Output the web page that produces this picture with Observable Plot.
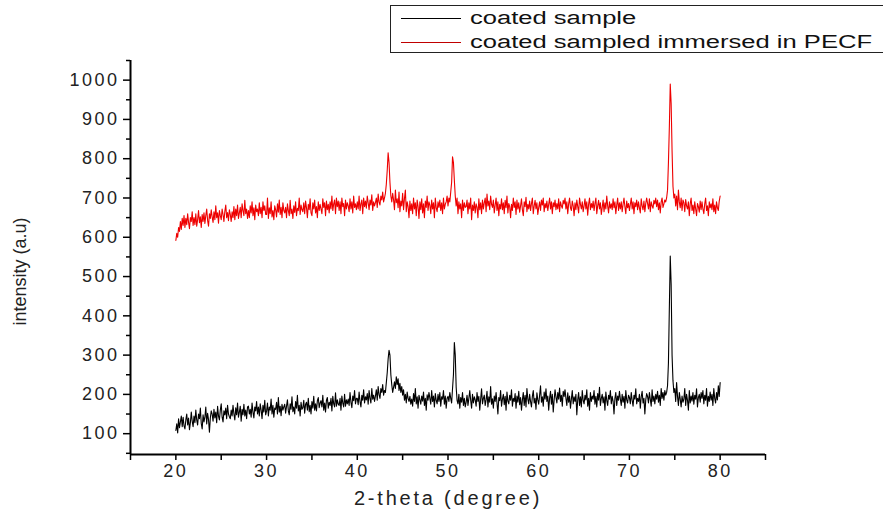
<!DOCTYPE html>
<html>
<head>
<meta charset="utf-8">
<script src="https://cdn.jsdelivr.net/npm/d3@7"></script>
<script src="https://cdn.jsdelivr.net/npm/@observablehq/plot@0.6"></script>
<style>
  html, body { margin: 0; padding: 0; background: #fff; overflow: hidden; }
  #wrap { position: relative; width: 883px; height: 517px; }
  #legend { position: absolute; left: 390px; top: 5px; width: 520px; height: 48px;
            border: 1px solid #222; box-sizing: border-box; background: #fff;
            font-family: "Liberation Sans", Arial, sans-serif; font-size: 18px; color: #111; }
  .row { position: absolute; left: 0; height: 22px; width: 100%; }
  .row .ln { position: absolute; left: 10px; top: 11px; width: 60px; height: 0; border-top: 1.3px solid #000; }
  .row .tx { position: absolute; left: 79px; top: 0; white-space: nowrap; transform: scaleX(1.42); transform-origin: left center; line-height: 22px; }
  svg [aria-label="x-axis tick label"] text, svg [aria-label="y-axis tick label"] text { letter-spacing: 2.5px; font-size: 18px; }
  svg [aria-label="x-axis label"] text { font-size: 20px; letter-spacing: 2.8px; }
</style>
</head>
<body>
<div id="wrap">
  <div id="chart"></div>
  <div id="legend"></div>
</div>
<script>
// 2-theta grid: start and step of the scan
const thetaStart = 20;
const thetaStep = 0.1;

const seriesNames = ["coated sample", "coated sampled immersed in PECF"];
const seriesColors = ["#000000", "#ee0000"];
const xTitle = "2-theta (degree)";
const yTitle = "intensity (a.u)";

// intensity (a.u) of coated sample, 20.0 → 80.0 in steps of 0.1 (one row per degree)
const coatedSample = [
  108,125,102,138,115,130,145,118,142,120,
  112,135,150,122,140,110,128,155,132,118,
  145,128,160,135,122,150,138,165,126,112,
  148,130,142,168,125,152,136,104,140,158,
  150,132,162,140,155,128,170,145,135,160,
  176,142,130,158,148,165,138,172,150,143,
  138,160,145,172,150,135,166,148,178,142,
  155,170,132,162,148,175,145,160,138,168,
  170,150,162,142,178,155,140,168,158,182,
  150,168,145,176,160,138,172,155,185,148,
  158,178,145,168,160,188,150,172,142,165,
  162,180,150,192,155,170,146,175,160,168,
  175,152,170,186,158,148,176,162,194,156,
  168,150,182,165,198,158,172,145,180,162,
  166,185,152,175,180,160,190,156,172,150,
  182,165,195,160,176,158,184,192,166,178,
  184,168,198,160,178,155,185,192,165,180,
  172,190,158,195,176,168,204,170,186,175,
  172,190,160,196,178,168,200,170,186,176,
  188,172,205,180,166,196,184,210,176,190,
  190,174,206,182,168,198,185,212,178,194,
  186,202,175,210,190,178,215,188,198,182,
  196,212,185,220,200,190,215,205,225,198,
  210,205,230,255,290,312,300,250,225,205,
  218,232,215,245,225,240,210,228,205,220,
  198,212,185,200,178,206,190,182,195,175,
  188,170,202,182,215,176,194,165,198,186,
  175,196,183,206,172,190,160,199,185,205,
  190,175,210,182,196,168,202,185,176,200,
  182,205,170,194,188,210,175,196,165,190,
  195,182,205,190,178,215,250,332,300,218,
  185,176,200,165,192,180,205,172,190,168,
  180,198,172,190,210,185,165,200,178,194,
  186,170,205,182,195,160,188,214,176,190,
  198,172,186,208,168,194,180,220,175,189,
  165,196,182,205,178,150,192,184,210,170,
  188,200,174,195,160,206,183,176,198,185,
  212,170,190,182,202,165,196,180,208,174,
  192,160,186,205,172,198,168,215,188,176,
  200,182,168,195,210,178,190,162,204,186,
  175,198,222,180,194,170,206,188,214,182,
  196,160,190,208,175,200,155,186,212,193,
  178,205,188,216,182,198,170,208,195,212,
  190,172,204,180,196,165,188,210,176,194,
  182,200,148,186,205,172,194,168,210,185,
  176,198,186,212,170,190,160,205,182,196,
  188,210,175,195,168,202,185,218,172,190,
  200,178,194,160,206,185,172,198,188,210,
  176,195,182,150,190,205,172,196,185,208,
  188,172,200,180,195,165,210,186,178,198,
  192,176,205,185,170,198,188,214,176,190,
  182,200,165,194,208,178,190,150,186,202,
  195,178,205,188,170,212,182,196,176,200,
  188,208,180,198,172,215,190,205,185,210,
  198,205,222,280,420,552,480,300,235,205,
  215,182,230,195,172,205,188,168,196,180,
  188,215,172,200,185,160,210,178,196,183,
  205,175,198,188,214,168,192,200,180,205,
  190,210,176,198,185,215,170,195,182,206,
  185,200,172,215,190,178,205,186,222,195,
  230
];

// intensity (a.u) of coated sample immersed in PECF, 20.0 → 80.0 in steps of 0.1
const immersedSample = [
  592,610,600,625,615,640,620,648,630,655,
  625,648,632,660,638,622,650,640,665,630,
  650,632,660,628,645,668,637,652,625,658,
  640,662,635,655,672,643,628,660,648,670,
  652,638,665,645,680,650,662,636,668,655,
  645,672,658,640,666,682,650,663,642,670,
  658,640,665,650,678,645,672,655,682,648,
  662,676,650,685,668,655,694,660,672,648,
  668,650,680,662,690,655,675,645,682,665,
  672,655,688,660,676,650,690,668,680,658,
  658,700,648,675,660,690,652,668,645,680,
  670,652,685,664,695,658,676,650,688,668,
  662,676,650,685,668,655,694,660,672,648,
  680,663,690,655,674,668,700,658,682,670,
  665,688,660,692,675,650,684,670,698,662,
  655,688,672,695,662,678,650,690,668,684,
  672,660,698,676,688,655,692,670,684,662,
  690,672,705,668,685,695,660,700,678,692,
  668,690,660,700,678,686,655,695,672,688,
  680,665,698,672,690,662,705,676,685,670,
  690,672,705,668,685,695,660,700,678,692,
  674,705,688,670,695,682,708,668,690,680,
  688,700,676,710,690,682,705,695,715,690,
  700,712,735,770,815,790,740,705,690,712,
  695,670,720,688,698,675,715,665,692,680,
  712,670,698,720,665,690,678,650,692,668,
  685,660,700,672,688,655,695,678,648,690,
  670,698,662,685,650,692,676,705,668,690,
  682,660,695,672,688,650,700,675,665,690,
  676,695,668,688,660,700,672,684,690,705,
  680,700,690,715,740,805,790,745,705,680,
  700,660,690,672,685,650,695,668,688,676,
  678,695,660,688,672,700,645,682,668,690,
  662,685,676,650,698,670,688,660,695,672,
  688,700,665,710,680,692,670,705,684,676,
  695,662,682,700,668,690,655,684,672,698,
  670,688,660,694,675,705,662,686,678,650,
  684,668,700,676,690,658,695,672,688,664,
  680,698,670,655,690,678,702,665,684,672,
  692,668,686,700,660,680,694,672,688,658,
  676,690,668,695,682,700,665,686,675,692,
  668,684,700,672,690,660,688,678,695,670,
  686,672,698,665,690,680,674,694,685,700,
  672,690,660,685,700,675,668,692,680,655,
  688,670,695,678,662,700,684,672,690,665,
  680,698,672,690,656,684,700,670,686,675,
  692,668,686,700,660,680,694,672,688,658,
  676,695,665,688,672,705,680,662,690,674,
  685,670,698,675,690,660,682,700,668,688,
  672,690,665,684,700,678,660,692,675,686,
  668,684,700,672,690,660,688,678,695,670,
  690,675,662,698,680,670,692,665,686,700,
  686,672,698,665,690,680,674,694,685,700,
  678,695,670,688,662,690,700,676,685,695,
  690,700,720,790,880,990,940,820,730,700,
  710,680,705,670,720,690,675,700,668,695,
  688,665,696,680,672,690,655,685,700,668,
  682,660,690,672,655,686,678,664,692,670,
  690,672,660,685,700,668,680,655,690,675,
  685,670,698,665,682,660,690,675,668,692,
  705
];

const xTicks = [20, 30, 40, 50, 60, 70, 80];
const xMinorTicks = [15, 25, 35, 45, 55, 65, 75, 85];
const yTicks = [100, 200, 300, 400, 500, 600, 700, 800, 900, 1000];
const yMinorTicks = [50, 150, 250, 350, 450, 550, 650, 750, 850, 950, 1050];
const xDomain = [15, 85];
const yDomain = [47, 1050];

const rows = [];
[coatedSample, immersedSample].forEach((arr, s) => {
  arr.forEach((v, i) => rows.push({series: seriesNames[s], theta: +(thetaStart + i * thetaStep).toFixed(2), intensity: v}));
});

const chart = Plot.plot({
  width: 883,
  height: 517,
  marginLeft: 130,
  marginRight: 118,
  marginTop: 60,
  marginBottom: 63,
  style: {fontFamily: "'Liberation Sans', Arial, sans-serif", fontSize: "16px", color: "#222", background: "#fff"},
  x: {domain: xDomain},
  y: {domain: yDomain},
  color: {domain: seriesNames, range: seriesColors},
  marks: [
    Plot.line(rows, {x: "theta", y: "intensity", z: "series", stroke: "series", strokeWidth: 1.1}),
    Plot.axisX(xTicks, {tickSize: 6, tickPadding: 4, strokeWidth: 1.5, stroke: "#000",
      label: xTitle, labelAnchor: "center", labelArrow: "none", labelOffset: 50}),
    Plot.axisX(xMinorTicks, {tickSize: 6, strokeWidth: 1.5, stroke: "#000", tickFormat: () => "", label: null}),
    Plot.axisY(yTicks, {tickSize: 7, tickPadding: 4, strokeWidth: 1.5, stroke: "#000", tickFormat: d3.format("d"), label: null}),
    Plot.axisY(yMinorTicks.filter(v => v >= yDomain[0] && v <= yDomain[1]), {tickSize: 4, strokeWidth: 1.5, stroke: "#000", tickFormat: () => "", label: null}),
    Plot.text([yTitle], {frameAnchor: "left", textAnchor: "middle", dx: -110, dy: 14, rotate: -90, fontSize: 18, fill: "#222"}),
    Plot.ruleX([xDomain[0]], {stroke: "#000", strokeWidth: 2}),
    Plot.ruleY([yDomain[0]], {stroke: "#000", strokeWidth: 2})
  ]
});
document.getElementById("chart").appendChild(chart);

const legend = document.getElementById("legend");
seriesNames.forEach((name, i) => {
  const row = document.createElement("div");
  row.className = "row";
  row.style.top = (1 + i * 24) + "px";
  const ln = document.createElement("div");
  ln.className = "ln";
  ln.style.borderTopColor = i === 0 ? "#000" : "#c00000";
  const tx = document.createElement("div");
  tx.className = "tx";
  tx.textContent = name;
  row.appendChild(ln);
  row.appendChild(tx);
  legend.appendChild(row);
});
</script>
</body>
</html>
